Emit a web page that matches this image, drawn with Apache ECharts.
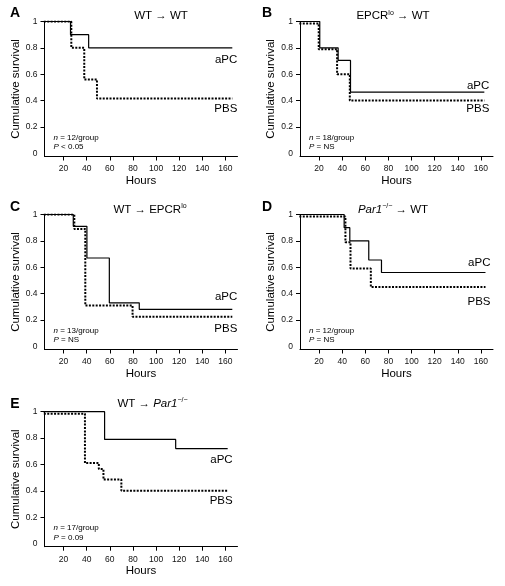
<!DOCTYPE html>
<html><head><meta charset="utf-8">
<script src="https://cdn.jsdelivr.net/npm/echarts@6/dist/echarts.min.js"></script>
<style>html,body{margin:0;padding:0;background:#fff}#c{width:505px;height:586px}</style>
</head><body><div id="c"></div>
<script>
// ---- data ----
const panelLetters = ['A', 'B', 'C', 'D', 'E'];
const panelTitles = ['WT → WT', 'EPCR{sup|lo} → WT', 'WT → EPCR{sup|lo}', '{it|Par1}{sup|−/−} → WT', 'WT → {it|Par1}{sup|−/−}'];
const groupSizes = ['12/group', '18/group', '13/group', '12/group', '17/group'];
const pValues = ['< 0.05', '= NS', '= NS', '= NS', '= 0.09'];
const xTickValues = [20, 40, 60, 80, 100, 120, 140, 160];
const yTickValues = [0, 0.2, 0.4, 0.6, 0.8, 1];
const yTickLabels = ['0', '0.2', '0.4', '0.6', '0.8', '1'];
const seriesNames = ['aPC', 'PBS'];
const xAxisName = 'Hours';
const yAxisName = 'Cumulative survival';
// survival curves: [hours, cumulative survival]
const aPC_A = [[0, 1], [26, 0.9], [41.7, 0.8], [166, 0.8]];
const PBS_A = [[0, 1], [26.7, 0.8], [37.9, 0.56], [48.9, 0.415], [166, 0.415]];
const aPC_B = [[0, 1], [20.6, 0.8], [36.5, 0.705], [47.2, 0.465], [163, 0.465]];
const PBS_B = [[0, 0.985], [19.7, 0.79], [35.6, 0.6], [46.6, 0.4], [163, 0.4]];
const aPC_C = [[0, 1], [28.4, 0.91], [40.2, 0.67], [59.6, 0.33], [85.5, 0.28], [166, 0.28]];
const PBS_C = [[0, 1], [29.3, 0.89], [38.8, 0.31], [79.7, 0.225], [166, 0.225]];
const aPC_D = [[0, 1], [41.7, 0.9], [46.6, 0.8], [63, 0.655], [74, 0.56], [164, 0.56]];
const PBS_D = [[0, 0.985], [42.8, 0.79], [47.2, 0.59], [64.8, 0.45], [164, 0.45]];
const aPC_E = [[0, 1], [55.5, 0.79], [117, 0.72], [162, 0.72]];
const PBS_E = [[0, 0.985], [38.5, 0.61], [50.5, 0.565], [54.5, 0.485], [70, 0.4], [162, 0.4]];
const aPCData = [aPC_A, aPC_B, aPC_C, aPC_D, aPC_E];
const PBSData = [PBS_A, PBS_B, PBS_C, PBS_D, PBS_E];

// ---- layout / style ----
const FONT = '"Liberation Sans", Arial, Helvetica, sans-serif';
const colLeft = [44.5, 300];
const rowTop = [21.5, 214.5, 411.7];
const letterX = [15, 267];
const letterY = [13, 207.5, 404];
const titleY = [16, 209.5, 403.5];
const titleDx = [116.5, 93, 105.5, 93, 108];
const GW = 193, GH = 135;
const panelPos = [[0, 0], [1, 0], [0, 1], [1, 1], [0, 2]];
const labelDy = [[12, 10], [-6.5, 8.5], [-13, 12], [-10, 15], [11, 10]];
const X_MIN = 3.5, X_MAX = 170.5, Y_MIN = -0.024, Y_MAX = 1;

const grids = [], xAxes = [], yAxes = [], series = [], graphics = [];
panelLetters.forEach((L, i) => {
  const c = panelPos[i][0], r = panelPos[i][1];
  const left = colLeft[c], top = rowTop[r];
  grids.push({ left: left, top: top, width: GW, height: GH });
  xAxes.push({
    gridIndex: i, type: 'value', min: X_MIN, max: X_MAX,
    axisLine: { show: true, onZero: false, lineStyle: { color: '#000', width: 1 } },
    axisTick: { show: true, customValues: xTickValues, length: 4, lineStyle: { color: '#000' } },
    axisLabel: { customValues: xTickValues, fontSize: 8.5, fontFamily: FONT, color: '#111', margin: 8 },
    splitLine: { show: false },
    name: xAxisName, nameLocation: 'middle', nameGap: 18.5,
    nameTextStyle: { fontSize: 11.5, fontFamily: FONT, color: '#000' }
  });
  yAxes.push({
    gridIndex: i, type: 'value', min: Y_MIN, max: Y_MAX,
    axisLine: { show: true, onZero: false, lineStyle: { color: '#000', width: 1 } },
    axisTick: { show: true, customValues: yTickValues.slice(1), length: 4, lineStyle: { color: '#000' } },
    axisLabel: {
      customValues: yTickValues, fontSize: 8.5, fontFamily: FONT, color: '#111', margin: 7,
      formatter: v => { const k = yTickValues.findIndex(t => Math.abs(t - v) < 1e-6); return k >= 0 ? yTickLabels[k] : ''; }
    },
    splitLine: { show: false },
    name: yAxisName, nameLocation: 'middle', nameGap: 17,
    nameTextStyle: { fontSize: 11.5, fontFamily: FONT, color: '#000' }
  });
  [aPCData[i], PBSData[i]].forEach((d, s) => {
    series.push({
      type: 'line', name: seriesNames[s], xAxisIndex: i, yAxisIndex: i,
      data: d, step: 'end', symbol: 'none', animation: false, z: 2 + s,
      lineStyle: s === 0 ? { color: '#000', width: 1.2, type: 'solid' } : { color: '#000', width: 2, type: [2, 1.4] },
      markPoint: {
        symbol: 'circle', symbolSize: 1, silent: true, animation: false,
        itemStyle: { color: 'rgba(0,0,0,0)' },
        data: [{ coord: d[d.length - 1] }],
        label: {
          show: true, formatter: seriesNames[s], position: 'inside', align: 'right', verticalAlign: 'middle',
          offset: [5, labelDy[i][s]], color: '#000', fontSize: 11.5, fontFamily: FONT
        }
      }
    });
  });
  // panel letter
  graphics.push({
    type: 'text', x: letterX[c], y: letterY[r],
    style: { text: L, font: 'bold 14px ' + FONT, fill: '#000', align: 'center', verticalAlign: 'middle', textAlign: 'center', textVerticalAlign: 'middle' }
  });
  // title
  graphics.push({
    type: 'text', x: left + titleDx[i], y: titleY[r],
    style: {
      text: panelTitles[i], fontSize: 11.5, fontFamily: FONT, fill: '#000',
      align: 'center', verticalAlign: 'middle', textAlign: 'center', textVerticalAlign: 'middle',
      rich: {
        sup: { fontSize: 7, fontFamily: FONT, verticalAlign: 'top', fill: '#000', lineHeight: 13 },
        it: { fontSize: 11.5, fontFamily: FONT, fontStyle: 'italic', fill: '#000' }
      }
    }
  });
  // annotation
  graphics.push({
    type: 'text', x: left + 9, y: top + GH - 23.5,
    style: {
      text: '{it|n} = ' + groupSizes[i] + '\n{it|P} ' + pValues[i],
      fontSize: 8, fontFamily: FONT, fill: '#000', lineHeight: 9.5,
      rich: { it: { fontSize: 8, fontFamily: FONT, fontStyle: 'italic', fill: '#000', lineHeight: 9.5 } }
    }
  });
});

const chart = echarts.init(document.getElementById('c'), null, { renderer: 'canvas' });
chart.setOption({
  backgroundColor: '#fff', animation: false,
  grid: grids, xAxis: xAxes, yAxis: yAxes, series: series, graphic: graphics
});
</script></body></html>
